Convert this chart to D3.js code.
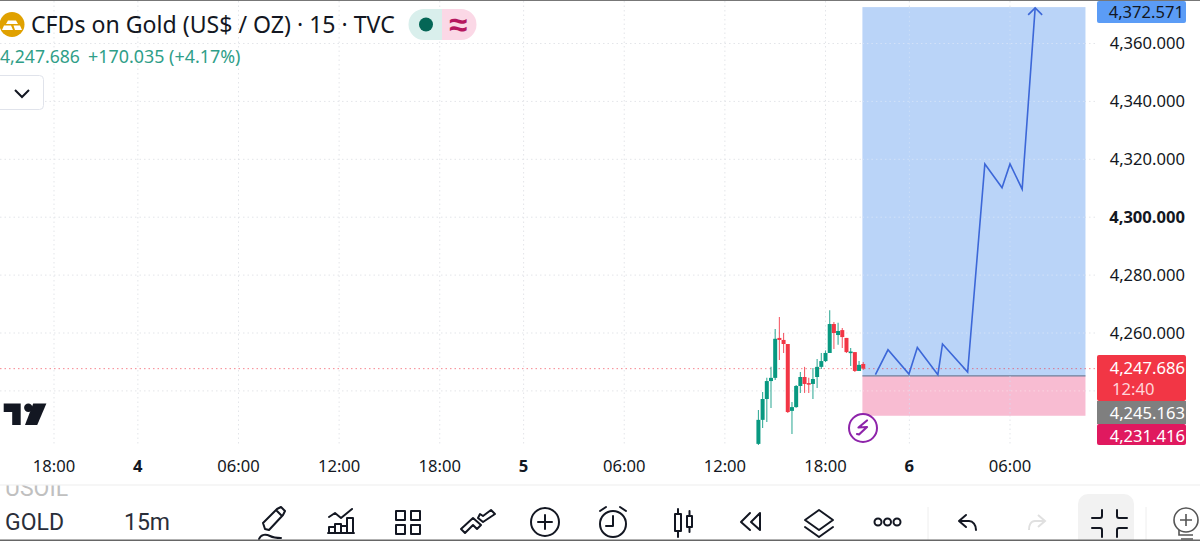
<!DOCTYPE html>
<html><head><meta charset="utf-8">
<script src="https://cdn.jsdelivr.net/npm/d3@7/dist/d3.min.js"></script>
<style>html,body{margin:0;padding:0;background:#fff;overflow:hidden}svg{display:block}text{font-family:"Noto Sans",sans-serif}</style>
</head><body><svg id="c" width="1200" height="541"></svg>
<script>
// 15-minute candles; bar offset counted from 18:00 on the 5th
const firstBar = -16;
const opens  = [4221.7,4230.0,4237.2,4243.4,4244.5,4258.3,4257.6,4256.2,4233.1,4234.4,4241.7,4244.8,4242.7,4242.4,4244.8,4248.3,4250.3,4253.1,4263.1,4259.3,4261.0,4258.3,4253.4,4253.4,4246.9,4249.3];
const closes = [4230.0,4237.2,4243.4,4244.5,4258.0,4257.6,4256.2,4232.7,4234.4,4241.7,4244.8,4242.4,4242.4,4244.1,4248.3,4250.3,4253.1,4263.1,4260.0,4260.7,4258.6,4253.4,4253.6,4246.9,4249.0,4247.686];
const highs  = [4233.4,4239.6,4244.5,4248.3,4261.4,4265.5,4260.0,4256.2,4236.2,4242.0,4246.5,4248.3,4244.5,4247.9,4251.0,4253.1,4254.0,4267.9,4263.8,4263.5,4261.7,4258.3,4254.8,4253.4,4250.3,4250.0];
const lows   = [4221.0,4227.2,4229.3,4234.1,4243.8,4250.7,4253.1,4232.4,4225.1,4234.2,4239.3,4239.3,4239.3,4237.2,4241.0,4247.6,4250.0,4253.1,4254.5,4255.9,4254.8,4253.1,4248.6,4246.5,4246.9,4247.2];

const priceTicks = [4240,4260,4280,4300,4320,4340,4360];
const priceLabels = ["4,260.000","4,280.000","4,300.000","4,320.000","4,340.000","4,360.000"];
const boldPriceLabel = "4,300.000";
const timeTickBars = [-184,-164,-140,-116,-92,-72,-48,-24,0,20,44];
const timeTickLabels = ["18:00","4","06:00","12:00","18:00","5","06:00","12:00","18:00","6","06:00"];
const boldTimeLabels = ["4","5","6"];

const lastPrice = 4247.686, entryPrice = 4245.163, targetPrice = 4372.571, stopPrice = 4231.416;
const positionBars = [8.8,62];
const pathBars   = [11.9,14.9,19.9,21.9,26.8,27.9,33.9,38,42.1,44,46.9,50];
const pathPrices = [4245.6,4254.2,4245.8,4255,4245.6,4256.2,4246.5,4318.4,4310.2,4318.4,4309.7,4372.3];

const svg = d3.select("#c");
const x = d3.scaleLinear().domain([-184,44]).range([54,1010]);
const y = d3.scaleLinear().domain([4260,4360]).range([333,43.5]);
const fmt = d3.format(",.3f");
const GREEN="#089981", RED="#f23645", INK="#131722";
const AXFS = 16.6;

svg.append("defs").append("clipPath").attr("id","plot").append("rect").attr("x",0).attr("y",1).attr("width",1097).attr("height",444);

const bg = svg.append("g").attr("clip-path","url(#plot)");
bg.selectAll(".gy").data(priceTicks).join("line").attr("x1",0).attr("x2",1097)
  .attr("y1",d=>y(d)).attr("y2",d=>y(d)).attr("stroke","#e3e5e9").attr("stroke-width",1).attr("stroke-dasharray","1.5 3");
bg.selectAll(".gx").data(timeTickBars).join("line").attr("y1",1).attr("y2",445)
  .attr("x1",d=>x(d)).attr("x2",d=>x(d)).attr("stroke","#e3e5e9").attr("stroke-width",1).attr("stroke-dasharray","1.5 3");

// TradingView watermark
const logo = svg.append("g").attr("transform","translate(3.7,403.5)").attr("fill","#131722");
logo.append("path").attr("d","M0 0H17V21.5H8.5V8.5H0Z");
logo.append("circle").attr("cx",24.6).attr("cy",4.2).attr("r",4.2);
logo.append("path").attr("d","M29.5 0H42.7L33.5 21.5H21.3Z");

// position tool
const xL=x(positionBars[0]), xR=x(positionBars[1]);
bg.append("rect").attr("x",xL).attr("width",xR-xL).attr("y",y(targetPrice)).attr("height",y(entryPrice)-y(targetPrice)).attr("fill","#bad4f8");
bg.append("rect").attr("x",xL).attr("width",xR-xL).attr("y",y(entryPrice)).attr("height",y(stopPrice)-y(entryPrice)).attr("fill","#f8bcd2");
bg.append("line").attr("x1",xL).attr("x2",xR).attr("y1",y(entryPrice)).attr("y2",y(entryPrice)).attr("stroke","#6f7f99").attr("stroke-width",1.2);
bg.selectAll(".gy2").data(priceTicks.filter(p=>p>entryPrice)).join("line").attr("x1",xL).attr("x2",xR)
  .attr("y1",d=>y(d)).attr("y2",d=>y(d)).attr("stroke","#d3e2f8").attr("stroke-dasharray","1.5 3");
bg.selectAll(".gy3").data(priceTicks.filter(p=>p<entryPrice)).join("line").attr("x1",xL).attr("x2",xR)
  .attr("y1",d=>y(d)).attr("y2",d=>y(d)).attr("stroke","#fbd6e2").attr("stroke-dasharray","1.5 3");
bg.selectAll(".gx2").data(timeTickBars.filter(b=>x(b)>xL)).join("line").attr("y1",y(targetPrice)).attr("y2",y(stopPrice))
  .attr("x1",d=>x(d)).attr("x2",d=>x(d)).attr("stroke","#d3e2f8").attr("stroke-opacity",.7).attr("stroke-dasharray","1.5 3");

// last price line over the box
bg.append("line").attr("x1",0).attr("x2",1097).attr("y1",y(lastPrice)).attr("y2",y(lastPrice))
  .attr("stroke",RED).attr("stroke-opacity",.6).attr("stroke-width",1).attr("stroke-dasharray","1.5 3");

// projected path
const pts = pathBars.map((b,i)=>[x(b),y(pathPrices[i])]);
const line = d3.line();
bg.append("path").attr("d",line(pts)).attr("fill","none").attr("stroke","#3c67d8").attr("stroke-width",1.6).attr("stroke-linejoin","miter");
const tip = pts[pts.length-1];
bg.append("path").attr("d",line([[tip[0]-7,tip[1]+7],tip,[tip[0]+7,tip[1]+7]])).attr("fill","none").attr("stroke","#3c67d8").attr("stroke-width",1.6);

// candles
const bars = opens.map((o,i)=>({o,c:closes[i],h:highs[i],l:lows[i],b:firstBar+i}));
const cg = bg.append("g");
cg.selectAll(".w").data(bars).join("line").attr("x1",d=>x(d.b)).attr("x2",d=>x(d.b))
  .attr("y1",d=>y(d.h)).attr("y2",d=>y(d.l)).attr("stroke",d=>d.c>=d.o?GREEN:RED).attr("stroke-opacity",.8).attr("stroke-width",1.1);
cg.selectAll(".b").data(bars).join("rect").attr("x",d=>x(d.b)-2).attr("width",4)
  .attr("y",d=>y(Math.max(d.o,d.c))).attr("height",d=>Math.max(1.6,Math.abs(y(d.o)-y(d.c))))
  .attr("fill",d=>d.c>=d.o?GREEN:RED);

// lightning badge
const bolt = svg.append("g").attr("transform","translate(863,428)");
bolt.append("circle").attr("r",14).attr("fill","#fff").attr("stroke","#8e24aa").attr("stroke-width",2);
bolt.append("path").attr("d","M4-7.5L-4.5-.5L4-1L-4 6.5L-6 6").attr("fill","none").attr("stroke","#8e24aa").attr("stroke-width",2.2).attr("stroke-linejoin","round").attr("stroke-linecap","round");

// header
svg.append("rect").attr("width",1200).attr("height",1).attr("fill","#777");
const coin = svg.append("g").attr("transform","translate(12,24.5)");
coin.append("circle").attr("r",12.5).attr("fill","#e0a100");
coin.append("path").attr("d","M-4-4H4L6-.5H-6Z M-10 5.5L-8 1H-1L1 5.5Z M1.5 1H8L10 5.5H3Z").attr("fill","#fff");
svg.append("text").attr("x",31).attr("y",33).attr("font-size",23.1).attr("fill",INK).text("CFDs on Gold (US$ / OZ) · 15 · TVC");
svg.append("path").attr("d","M442 9H424a15.5 15.5 0 0 0 0 31H442Z").attr("fill","#d9efec");
svg.append("path").attr("d","M442 9H461a15.5 15.5 0 0 1 0 31H442Z").attr("fill","#fbd8e6");
svg.append("circle").attr("cx",426).attr("cy",24.5).attr("r",7).attr("fill","#056656");
svg.append("text").attr("x",458).attr("y",36).attr("text-anchor","middle").attr("font-size",33).attr("font-weight",600).attr("fill","#b5175f").text("≈");
svg.append("text").attr("x",0).attr("y",63).attr("font-size",17.6).attr("fill","#2f9e88").text("4,247.686");
svg.append("text").attr("x",88).attr("y",63).attr("font-size",17.9).attr("fill","#2f9e88").text("+170.035 (+4.17%)");
svg.append("rect").attr("x",-6).attr("y",75.5).attr("width",49.5).attr("height",34).attr("rx",4).attr("fill","#fff").attr("stroke","#e0e3eb");
svg.append("path").attr("d","M15 90L22 97L29 90").attr("fill","none").attr("stroke",INK).attr("stroke-width",2);

// price axis labels
svg.selectAll(".pl").data(priceLabels).join("text")
  .attr("x",1185).attr("y",(d,i)=>y(4260+20*i)+5.8).attr("text-anchor","end").attr("font-size",AXFS)
  .attr("font-weight",d=>d===boldPriceLabel?700:400).attr("fill",INK).text(d=>d);

// price tags
svg.append("rect").attr("x",1097).attr("y",1).attr("width",89).attr("height",22).attr("rx",2).attr("fill","#5b9cf6");
svg.append("text").attr("x",1184).attr("y",17.5).attr("text-anchor","end").attr("font-size",AXFS).attr("fill",INK).text(fmt(targetPrice));
svg.append("rect").attr("x",1097).attr("y",355).attr("width",89).attr("height",46).attr("rx",2).attr("fill",RED);
svg.append("text").attr("x",1185).attr("y",374).attr("text-anchor","end").attr("font-size",AXFS).attr("fill","#fff").text(fmt(lastPrice));
svg.append("text").attr("x",1112).attr("y",395).attr("font-size",AXFS).attr("fill","#ffd5d9").text("12:40");
svg.append("rect").attr("x",1097).attr("y",401).attr("width",89).attr("height",23).attr("fill","#7f7f7f");
svg.append("text").attr("x",1185).attr("y",418.5).attr("text-anchor","end").attr("font-size",AXFS).attr("fill","#fff").text(fmt(entryPrice));
svg.append("rect").attr("x",1097).attr("y",424).attr("width",89).attr("height",21).attr("rx",2).attr("fill","#e0195f");
svg.append("text").attr("x",1185).attr("y",442).attr("text-anchor","end").attr("font-size",AXFS).attr("fill","#fff").text(fmt(stopPrice));

// time axis
svg.selectAll(".tl").data(timeTickBars).join("text")
  .attr("x",d=>x(d)).attr("y",472).attr("text-anchor","middle").attr("font-size",AXFS)
  .attr("font-weight",(d,i)=>boldTimeLabels.includes(timeTickLabels[i])?700:400).attr("fill",INK)
  .text((d,i)=>timeTickLabels[i]);

// toolbar
svg.append("rect").attr("y",484.5).attr("width",1200).attr("height",1).attr("fill","#eeeeee");
svg.append("clipPath").attr("id","us").append("rect").attr("y",485.5).attr("width",200).attr("height",20);
svg.append("text").attr("clip-path","url(#us)").attr("x",5).attr("y",496).style("font-family","Roboto").attr("font-size",23).attr("fill","#c0c0c0").text("USOIL");
svg.append("text").attr("x",5).attr("y",530).style("font-family","Roboto").attr("font-size",23).attr("fill","#2a2e39").text("GOLD");
svg.append("text").attr("x",124).attr("y",530).style("font-family","Roboto").attr("font-size",23).attr("fill","#2a2e39").text("15m");
svg.append("rect").attr("x",1078).attr("y",494).attr("width",56).attr("height",60).attr("rx",10).attr("fill","#f2f2f2");
svg.selectAll(".sep").data([928,1146]).join("line").attr("x1",d=>d).attr("x2",d=>d).attr("y1",507).attr("y2",540).attr("stroke","#eeeeee");
const ic = svg.append("g").attr("fill","none").attr("stroke","#131722").attr("stroke-width",2).attr("stroke-linecap","round").attr("stroke-linejoin","round");
ic.append("path").attr("d","M265 529L263 523L277 509L281 507L285 511L283 515L269 530ZM276 510L282 516M259 539C261 534 266 534 270 536C274 538 278 538 281 538");
ic.append("path").attr("d","M329 517L335 513L341 518L352 509M328 533H354M329 533V527H335V533M335 533V524H341V533M347 533V518H353V533M341 533V526H347V533");
ic.append("path").attr("d","M396 511h9v9h-9zM411 511h9v9h-9zM396 525h9v9h-9zM411 525h9v9h-9z");
ic.append("path").attr("d","M461 529L473 518L481 525L477 529L473 525L465 533ZM478 518L483 522L495 514L491 510L483 516L480 514Z");
ic.append("circle").attr("cx",545).attr("cy",522).attr("r",14);
ic.append("path").attr("d","M538 522H552M545 515V529");
ic.append("circle").attr("cx",613).attr("cy",524).attr("r",13);
ic.append("path").attr("d","M613 516V526H606M600 511L606 507M626 511L620 507");
ic.append("path").attr("d","M675 514h6v17h-6zM678 509V514M678 531V537M687 516h5v11h-5zM689.5 511V516M689.5 527V532");
ic.append("path").attr("d","M750 513L741 522L750 530M760 513L751 522L760 530V513");
ic.append("path").attr("d","M819 510L805 520L819 530L833 520ZM805 527L819 537L833 527");
[878,887.5,897].forEach(c=>ic.append("circle").attr("cx",c).attr("cy",522).attr("r",3.5));
ic.append("path").attr("d","M966 515L959 521L966 527M959 521H969C973 521 976 525 976 530");
svg.append("path").attr("d","M1038 515L1045 521L1038 527M1045 521H1035C1031 521 1029 525 1029 530").attr("fill","none").attr("stroke","#e0e0e0").attr("stroke-width",2);
ic.append("path").attr("d","M1102 510V516Q1102 518 1100 518H1092M1117 510V516Q1117 518 1119 518H1127M1102 537V530Q1102 528 1100 528H1092M1117 537V530Q1117 528 1119 528H1127");
const bulb=svg.append("g").attr("fill","none").attr("stroke","#555").attr("stroke-width",1.6);
bulb.append("circle").attr("cx",1186).attr("cy",520).attr("r",12);
bulb.append("path").attr("d","M1180 520H1192M1186 514V526M1179 530V535H1193M1181 539H1193");
svg.append("rect").attr("y",539.5).attr("width",1200).attr("height",1.5).attr("fill","#666");
</script></body></html>
